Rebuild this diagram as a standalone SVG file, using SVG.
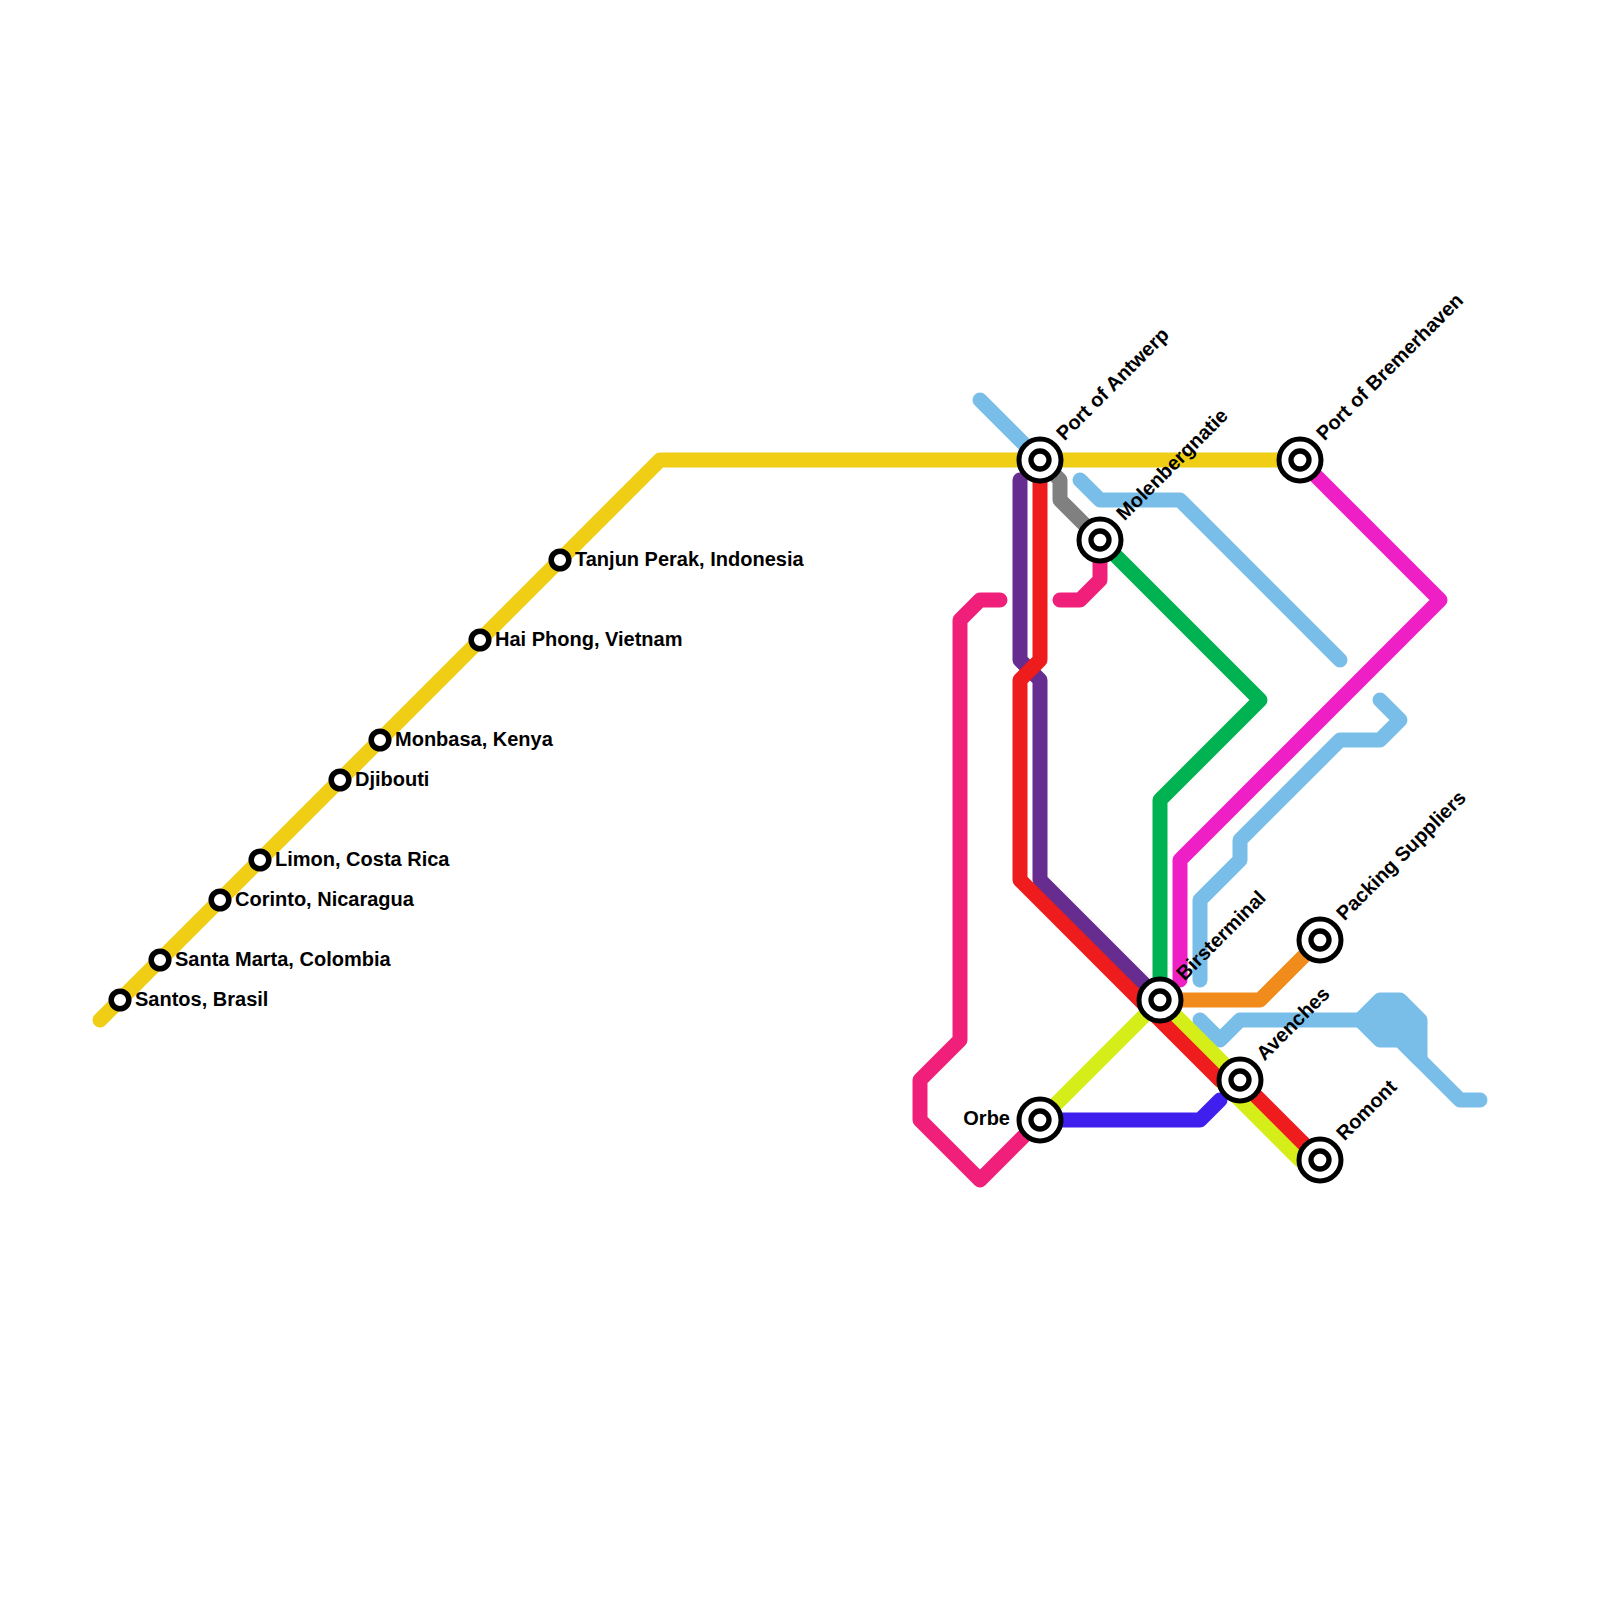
<svg xmlns="http://www.w3.org/2000/svg" width="1600" height="1600" viewBox="0 0 1600 1600">
<style>
.l{fill:none;stroke-width:15;stroke-linecap:round;stroke-linejoin:round}
.t{font-family:"Liberation Sans",Arial,sans-serif;font-weight:700;font-size:20px;fill:#000}
.o{fill:#fff;stroke:#000;stroke-width:5.5}
.b{fill:#fff;stroke:#000;stroke-width:5}
.i{fill:#fff;stroke:#000;stroke-width:5.3}
</style>
<rect width="1600" height="1600" fill="#fff"/>
<g id="connectors">
<path class="l" stroke="#79bde9" d="M980 400L1040 460M1080 480L1100 500H1180L1340 660M1380 700L1400 720L1380 740H1340L1240 840V860L1200 900V980"/>
<path class="l" stroke="#79bde9" style="fill:#79bde9" d="M1360 1020L1380 1000H1400L1420 1020V1060L1400 1040H1380Z"/>
<path class="l" stroke="#79bde9" d="M1200 1020L1220 1040L1240 1020H1360M1400 1040L1460 1100H1480"/>
<path class="l" stroke="#f0ce15" d="M100 1020L660 460H1300"/>
<path class="l" stroke="#808080" d="M1040 460L1060 480V500L1100 540"/>
<path class="l" stroke="#f01f7a" d="M1100 540V580L1080 600H1060M1000 600H980L960 620V1040L920 1080V1120L980 1180L1040 1120"/>
<path class="l" stroke="#662c90" d="M1020 480V660L1040 680V880L1160 1000"/>
<path class="l" stroke="#00b251" d="M1100 540L1260 700L1160 800V1000"/>
<path class="l" stroke="#ee1fc5" d="M1300 460L1440 600L1180 860V980"/>
<path class="l" stroke="#f08b1c" d="M1160 1000H1260L1320 940"/>
<path class="l" stroke="#3f1fee" d="M1040 1120H1200L1220 1100"/>
<path class="l" stroke="#d5ee1a" d="M1040 1120L1160 1000L1240 1080H1220L1300 1160H1320"/>
<path class="l" stroke="#ee1c1c" d="M1040 460V660L1020 680V880L1220 1080H1240L1320 1160"/>
</g>
<g id="santos"><circle class="o" cx="120" cy="1000" r="8.8"/><text class="t" x="135" y="1006">Santos, Brasil</text></g>
<g id="santa-marta"><circle class="o" cx="160" cy="960" r="8.8"/><text class="t" x="175" y="966">Santa Marta, Colombia</text></g>
<g id="corinto"><circle class="o" cx="220" cy="900" r="8.8"/><text class="t" x="235" y="906">Corinto, Nicaragua</text></g>
<g id="limon"><circle class="o" cx="260" cy="860" r="8.8"/><text class="t" x="275" y="866">Limon, Costa Rica</text></g>
<g id="djibouti"><circle class="o" cx="340" cy="780" r="8.8"/><text class="t" x="355" y="786">Djibouti</text></g>
<g id="monbasa"><circle class="o" cx="380" cy="740" r="8.8"/><text class="t" x="395" y="746">Monbasa, Kenya</text></g>
<g id="hai-phong"><circle class="o" cx="480" cy="640" r="8.8"/><text class="t" x="495" y="646">Hai Phong, Vietnam</text></g>
<g id="tanjun"><circle class="o" cx="560" cy="560" r="8.8"/><text class="t" x="575" y="566">Tanjun Perak, Indonesia</text></g>
<g id="antwerp"><circle class="b" cx="1040" cy="460" r="21"/><circle class="i" cx="1040" cy="460" r="9"/><text class="t" transform="translate(1064.5 441.5) rotate(-45)">Port of Antwerp</text></g>
<g id="molenbergnatie"><circle class="b" cx="1100" cy="540" r="21"/><circle class="i" cx="1100" cy="540" r="9"/><text class="t" transform="translate(1124.5 521.5) rotate(-45)">Molenbergnatie</text></g>
<g id="bremerhaven"><circle class="b" cx="1300" cy="460" r="21"/><circle class="i" cx="1300" cy="460" r="9"/><text class="t" transform="translate(1324.5 441.5) rotate(-45)">Port of Bremerhaven</text></g>
<g id="packing"><circle class="b" cx="1320" cy="940" r="21"/><circle class="i" cx="1320" cy="940" r="9"/><text class="t" transform="translate(1344.5 921.5) rotate(-45)">Packing Suppliers</text></g>
<g id="birsterminal"><circle class="b" cx="1160" cy="1000" r="21"/><circle class="i" cx="1160" cy="1000" r="9"/><text class="t" transform="translate(1184.5 981.5) rotate(-45)">Birsterminal</text></g>
<g id="avenches"><circle class="b" cx="1240" cy="1080" r="21"/><circle class="i" cx="1240" cy="1080" r="9"/><text class="t" transform="translate(1264.5 1061.5) rotate(-45)">Avenches</text></g>
<g id="romont"><circle class="b" cx="1320" cy="1160" r="21"/><circle class="i" cx="1320" cy="1160" r="9"/><text class="t" transform="translate(1344.5 1141.5) rotate(-45)">Romont</text></g>
<g id="orbe"><circle class="b" cx="1040" cy="1120" r="21"/><circle class="i" cx="1040" cy="1120" r="9"/><text class="t" x="1010" y="1125" text-anchor="end">Orbe</text></g>
</svg>
